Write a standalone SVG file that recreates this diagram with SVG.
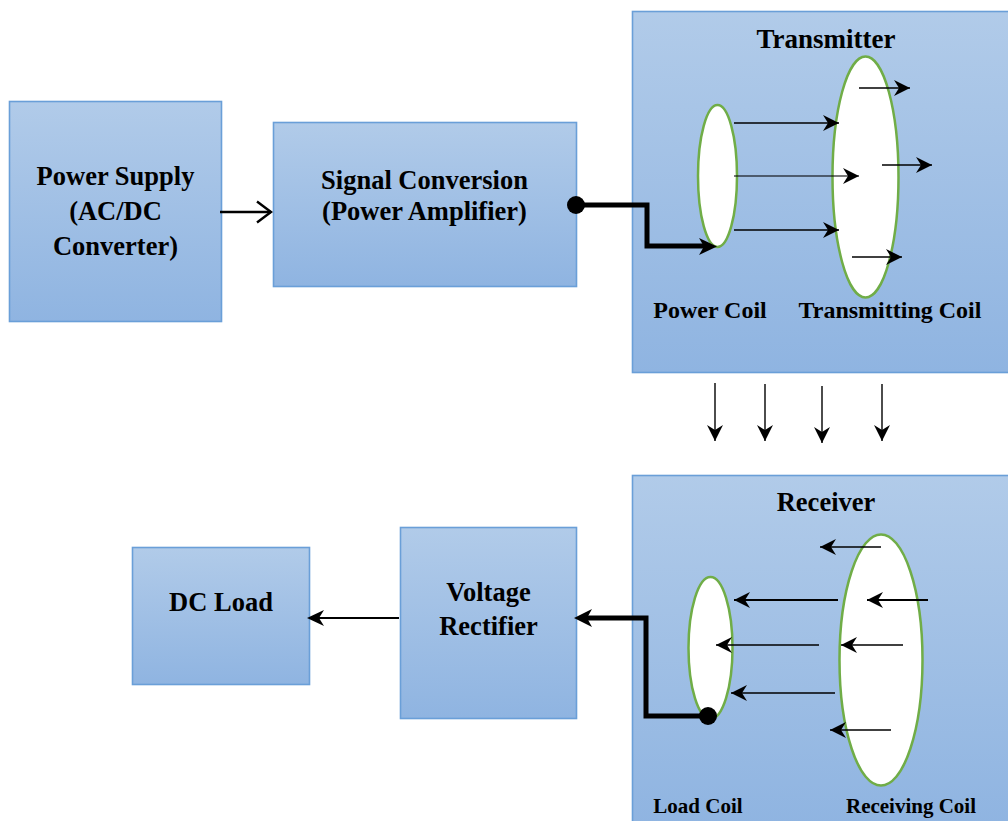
<svg xmlns="http://www.w3.org/2000/svg" width="1008" height="821" viewBox="0 0 1008 821">
<defs>
<linearGradient id="g" x1="0" y1="0" x2="0" y2="1"><stop offset="0" stop-color="#b1cbe9"/><stop offset="1" stop-color="#8fb4e1"/></linearGradient>
<marker id="s" viewBox="0 0 17 17" refX="16" refY="8.500" markerUnits="userSpaceOnUse" markerWidth="17" markerHeight="17" orient="auto"><path d="M0 0.500L16 8.500L0 16.500L5 8.500Z" fill="#000"/></marker>
<marker id="o" viewBox="0 0 22 24" refX="20" refY="12" markerUnits="userSpaceOnUse" markerWidth="22" markerHeight="24" orient="auto"><path d="M6 1.500L20 12L6 22.500" fill="none" stroke="#000" stroke-width="2.400"/></marker>
</defs>
<style>
.b{fill:url(#g);stroke:#6a9fd8;stroke-width:1.600}
.c{fill:#fff;stroke:#70ad47;stroke-width:2.500}
.a{stroke:#000;stroke-width:1.400;fill:none;marker-end:url(#s)}
.t{stroke:#000;stroke-width:5;fill:none}
text{font-family:"Liberation Serif","Times New Roman",serif;font-weight:700;fill:#000;text-anchor:middle}
.l{font-size:26.500px}.m{font-size:24px}.n{font-size:21px}
</style>
<rect width="1008" height="821" fill="#fff"/>
<g id="power-supply"><rect class="b" x="9.500" y="101.500" width="212" height="220"/><text class="l" x="115.500" y="185">Power Supply</text><text class="l" x="115.500" y="220">(AC/DC</text><text class="l" x="115.500" y="255">Converter)</text></g>
<g id="signal-conversion"><rect class="b" x="273.500" y="122.500" width="303" height="164"/><text class="l" x="424.500" y="189">Signal Conversion</text><text class="l" x="424.500" y="220">(Power Amplifier)</text></g>
<g id="transmitter"><rect class="b" x="632.500" y="11.500" width="380" height="361"/><text class="l" x="826" y="48" style="font-size:27px">Transmitter</text></g>
<g id="power-coil"><ellipse class="c" cx="717.500" cy="176" rx="19.500" ry="71"/><text class="m" x="710" y="318">Power Coil</text></g>
<g id="transmitting-coil"><ellipse class="c" cx="865.500" cy="177" rx="33" ry="120.500"/><text class="m" x="890" y="318">Transmitting Coil</text></g>
<g id="receiver"><rect class="b" x="632.500" y="475.500" width="380" height="350"/><text class="l" x="826" y="511">Receiver</text></g>
<g id="load-coil"><ellipse class="c" cx="710.500" cy="648" rx="22" ry="71"/><text class="n" x="698" y="813">Load Coil</text></g>
<g id="receiving-coil"><ellipse class="c" cx="881" cy="660" rx="41.500" ry="125.500"/><text class="n" x="911" y="813">Receiving Coil</text></g>
<g id="voltage-rectifier"><rect class="b" x="400.500" y="527.500" width="176" height="191"/><text class="l" x="488.500" y="601">Voltage</text><text class="l" x="488.500" y="635">Rectifier</text></g>
<g id="dc-load"><rect class="b" x="132.500" y="547.500" width="177" height="137"/><text class="l" x="221" y="611">DC Load</text></g>
<g id="connectors">
<path d="M220 212H271" stroke="#000" stroke-width="2.400" fill="none" marker-end="url(#o)"/>
<path class="t" d="M576 205H647V246H706"/>
<path d="M699 238L717 246.500L699 255L704 246.500Z"/>
<circle cx="576" cy="205" r="9"/>
<path class="a" d="M734 123H839"/><path class="a" d="M734 176H859" stroke-opacity=".7"/><path class="a" d="M734 230H839"/>
<path class="a" d="M859 88H910"/><path class="a" d="M882 165H932"/><path class="a" d="M852 257H902"/>
<path class="a" d="M715 383V441"/><path class="a" d="M765 384V441"/><path class="a" d="M822 386V443"/><path class="a" d="M882 384V441"/>
<path class="a" d="M881 547H820"/><path class="a" d="M838 600H734" style="stroke-width:2"/><path class="a" d="M928 600H867" style="stroke-width:2"/>
<path class="a" d="M819 645H716"/><path class="a" d="M903 645H841"/><path class="a" d="M835 693H731"/><path class="a" d="M891 730H830"/>
<path class="t" d="M707 716H646V618H586"/>
<path d="M574 618L592 609L587 618L592 627Z"/>
<circle cx="708" cy="716" r="9"/>
<path d="M399 618H318" stroke="#000" stroke-width="2" fill="none"/><path d="M307 618L324 610L319 618L324 626Z"/>
</g>
</svg>
